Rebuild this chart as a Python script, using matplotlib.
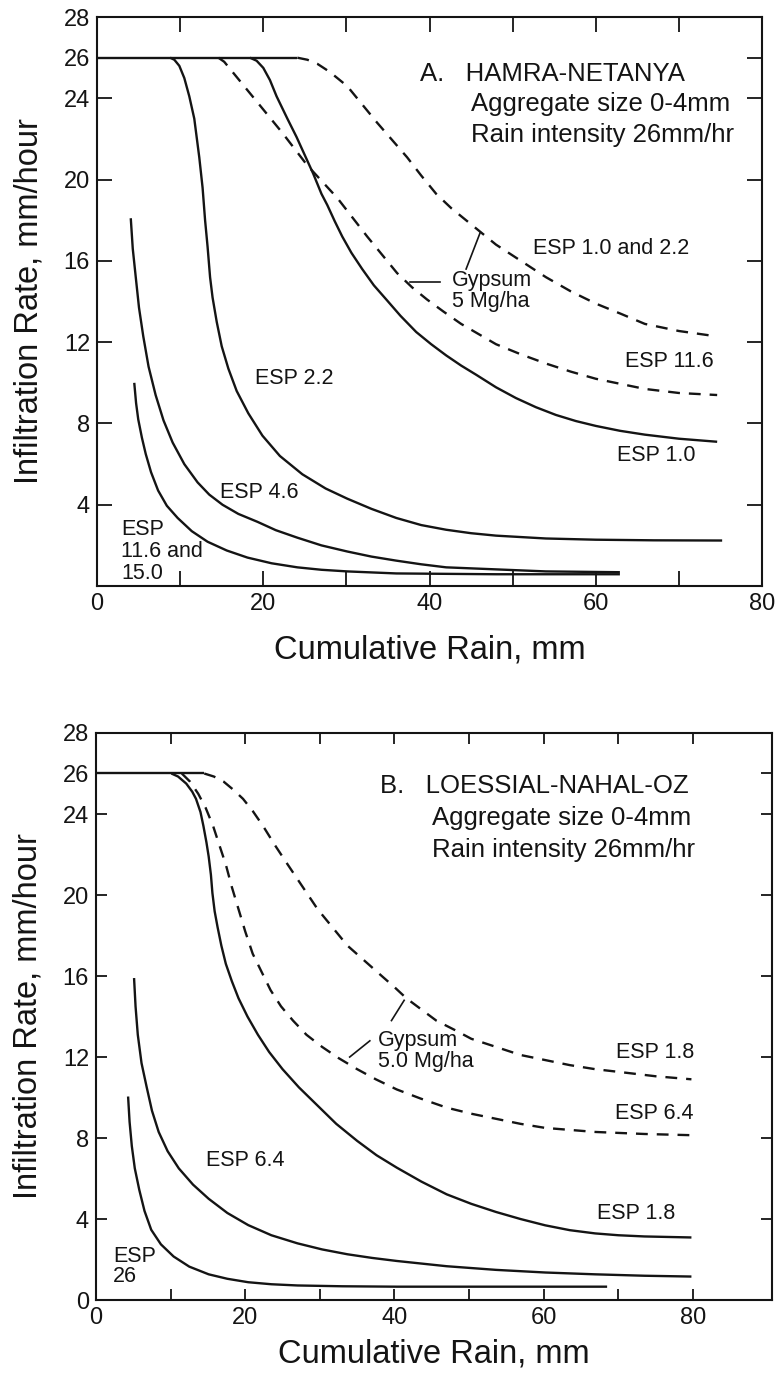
import matplotlib
matplotlib.use("Agg")
from matplotlib import pyplot as plt

plt.rcParams["font.family"] = ["Liberation Sans", "DejaVu Sans"]

INK = "#141414"

# ---------------- Panel A: Hamra-Netanya ----------------
plateau_a_x = [0, 24.1]
plateau_a_y = [26, 26]

esp22_a_x = [8.8, 9.3, 9.9, 10.5, 11.1, 11.7, 12.3, 12.7, 13.0, 13.3, 13.6, 13.9, 14.4, 15.0, 15.8, 16.8,
             18.2, 19.9, 22.0, 24.7, 27.5, 30.1, 33.0, 36.0, 39.0, 42.0, 45.0, 48.0, 54.0, 60.0, 67.0, 75.2]
esp22_a_y = [26.0, 25.9, 25.6, 25.0, 24.1, 23.0, 21.1, 19.6, 18.0, 16.7, 15.2, 14.2, 13.0, 11.8, 10.7, 9.6,
             8.5, 7.4, 6.4, 5.5, 4.8, 4.3, 3.8, 3.35, 3.0, 2.77, 2.6, 2.48, 2.34, 2.28, 2.25, 2.24]

esp10_a_x = [18.4, 19.2, 20.0, 20.8, 21.6, 22.9, 24.0, 25.0, 26.0, 27.0, 27.7, 28.6, 29.5, 30.6, 31.9, 33.3,
             34.8, 36.5, 38.4, 40.2, 42.0, 43.8, 45.6, 48.0, 50.4, 52.8, 55.2, 57.6, 60.0, 62.9, 65.9, 70.0,
             74.6]
esp10_a_y = [26.0, 25.85, 25.5, 24.9, 24.1, 23.0, 22.1, 21.2, 20.3, 19.3, 18.75, 17.95, 17.2, 16.4, 15.6, 14.8,
             14.1, 13.3, 12.5, 11.9, 11.35, 10.85, 10.4, 9.78, 9.25, 8.8, 8.42, 8.12, 7.88, 7.64, 7.45, 7.25,
             7.1]

gyp_esp10_22_a_x = [24.1, 25.3, 26.5, 28.0, 30.1, 31.9, 33.7, 35.5, 37.3, 39.0, 40.8, 42.6, 44.4, 46.2, 48.0,
                    51.0, 54.0, 57.0, 60.0, 63.0, 65.9, 70.0, 74.3]
gyp_esp10_22_a_y = [26.0, 25.9, 25.7, 25.3, 24.6, 23.7, 22.8, 21.95, 21.1, 20.2, 19.3, 18.6, 18.0, 17.4, 16.8,
                    16.0, 15.2, 14.5, 13.9, 13.4, 12.9, 12.55, 12.3]

gyp_esp116_a_x = [14.6, 15.3, 16.3, 17.8, 19.3, 20.8, 22.3, 23.8, 25.3, 27.1, 28.9, 30.7, 32.5, 34.3, 36.1,
                  37.9, 39.7, 41.7, 43.8, 45.9, 48.0, 51.0, 54.0, 57.0, 60.0, 65.9, 70.0, 74.6]
gyp_esp116_a_y = [26.0, 25.8, 25.3, 24.55, 23.8, 23.05, 22.3, 21.5, 20.7, 19.9, 19.1, 18.15, 17.2, 16.3, 15.4,
                  14.7, 14.1, 13.5, 12.9, 12.4, 11.9, 11.4, 10.95, 10.55, 10.2, 9.7, 9.5, 9.4]

esp46_a_x = [4.06, 4.3, 4.66, 5.05, 5.56, 6.2, 7.05, 8.0, 9.1, 10.5, 12.1, 13.5, 15.1, 17.0, 19.3, 21.5,
             24.1, 27.0, 30.1, 33.0, 36.0, 39.0, 42.0, 48.0, 54.0, 62.9]
esp46_a_y = [18.1, 16.6, 15.2, 13.7, 12.3, 10.8, 9.4, 8.15, 7.06, 6.0, 5.1, 4.5, 4.0, 3.55, 3.16, 2.75,
             2.38, 2.0, 1.7, 1.45, 1.25, 1.07, 0.92, 0.82, 0.72, 0.68]

esp116_15_a_x = [4.48, 4.7, 4.96, 5.4, 5.86, 6.5, 7.35, 8.4, 9.7, 11.4, 13.3, 15.6, 18.1, 21.0, 24.1, 27.0,
                 30.1, 36.0, 48.0, 62.9]
esp116_15_a_y = [10.0, 9.0, 8.2, 7.3, 6.5, 5.6, 4.7, 3.95, 3.35, 2.7, 2.18, 1.75, 1.4, 1.12, 0.92, 0.8,
                 0.72, 0.62, 0.58, 0.58]

# ---------------- Panel B: Loessial-Nahal-Oz ----------------
plateau_b_x = [0, 14.5]
plateau_b_y = [26, 26]

esp18_b_x = [10.1, 11.0, 12.1, 12.9, 13.4, 14.0, 14.4, 14.8, 15.1, 15.4, 15.6, 15.9, 16.3, 16.8, 17.4, 18.2,
             19.1, 20.3, 21.7, 23.2, 25.0, 27.2, 29.7, 32.2, 35.0, 37.6, 40.3, 43.6, 47.0, 50.3, 53.6, 56.9,
             60.2, 63.5, 66.9, 70.0, 73.5, 79.8]
esp18_b_y = [26.0, 25.85, 25.5, 25.1, 24.75, 24.1, 23.4, 22.6, 21.9, 21.0, 20.1, 19.2, 18.4, 17.5, 16.6, 15.75,
             14.9, 14.0, 13.1, 12.25, 11.4, 10.5, 9.6, 8.7, 7.86, 7.15, 6.54, 5.85, 5.22, 4.75, 4.35, 4.0,
             3.69, 3.45, 3.29, 3.2, 3.14, 3.09]

gyp_esp64_b_x = [11.5, 12.6, 13.7, 14.7, 15.7, 16.5, 17.4, 18.2, 19.1, 20.0, 21.0, 22.2, 23.4, 24.8, 26.4,
                 28.2, 30.3, 32.5, 35.0, 37.5, 40.3, 43.5, 47.0, 50.3, 53.6, 56.9, 60.2, 66.9, 73.5, 79.8]
gyp_esp64_b_y = [26.0, 25.6, 25.0, 24.3, 23.4, 22.5, 21.5, 20.4, 19.3, 18.2, 17.1, 16.2, 15.3, 14.5, 13.8,
                 13.1, 12.5, 11.95, 11.4, 10.9, 10.4, 9.95, 9.5, 9.2, 8.95, 8.7, 8.5, 8.3, 8.2, 8.14]

gyp_esp18_b_x = [14.5, 15.8, 17.1, 18.4, 19.7, 21.0, 22.4, 24.0, 25.7, 27.7, 29.7, 31.7, 33.7, 36.0, 38.3,
                 40.0, 41.6, 43.6, 45.6, 48.0, 50.3, 53.6, 56.9, 60.2, 63.5, 66.9, 70.2, 75.0, 79.8]
gyp_esp18_b_y = [26.0, 25.85, 25.6, 25.2, 24.75, 24.15, 23.4, 22.45, 21.5, 20.4, 19.3, 18.4, 17.5, 16.75, 16.0,
                 15.45, 14.9, 14.35, 13.8, 13.35, 12.9, 12.5, 12.1, 11.85, 11.6, 11.4, 11.26, 11.05, 10.9]

esp64_b_x = [5.1, 5.3, 5.6, 6.1, 6.8, 7.5, 8.4, 9.6, 11.1, 13.0, 15.1, 17.6, 20.4, 23.5, 27.0, 30.3, 33.7,
             37.0, 40.3, 47.0, 53.6, 60.2, 66.9, 73.5, 79.8]
esp64_b_y = [15.9, 14.5, 13.1, 11.7, 10.5, 9.35, 8.3, 7.35, 6.5, 5.7, 5.0, 4.3, 3.7, 3.2, 2.8, 2.5, 2.26,
             2.08, 1.93, 1.67, 1.49, 1.36, 1.27, 1.2, 1.16]

esp26_b_x = [4.3, 4.5, 4.8, 5.2, 5.8, 6.5, 7.4, 8.7, 10.4, 12.5, 15.1, 17.6, 20.4, 23.5, 27.0, 33.0, 40.3,
             53.6, 68.5]
esp26_b_y = [10.05, 8.8, 7.6, 6.5, 5.44, 4.4, 3.47, 2.75, 2.15, 1.65, 1.27, 1.05, 0.88, 0.78, 0.72, 0.68, 0.66,
             0.66, 0.66]

y_ticks = [0, 4, 8, 12, 16, 20, 24, 26, 28]
x_ticks = [0, 10, 20, 30, 40, 50, 60, 70, 80]

SOLID = dict(color=INK, lw=1.7, solid_capstyle="butt", solid_joinstyle="round")
DASHED = dict(color=INK, lw=1.7, linestyle=(0, (5.0, 3.8)))

fig = plt.figure(figsize=(7.78, 13.76), dpi=100)
ax_a = fig.add_axes([0.1247, 0.5741, 0.8548, 0.4135])
ax_b = fig.add_axes([0.1234, 0.0552, 0.8689, 0.4121])


def style_axes(ax, xmax, show_zero, tick_len, xpad):
    ax.set_xlim(0, xmax)
    ax.set_ylim(0, 28)
    ax.set_xticks(x_ticks)
    ax.set_xticklabels([str(t) if t % 20 == 0 else "" for t in x_ticks])
    ax.set_yticks(y_ticks)
    ax.set_yticklabels([str(t) if (t != 0 or show_zero) else "" for t in y_ticks])
    ax.tick_params(direction="in", length=tick_len, width=1.3, colors=INK,
                   labelsize=17, top=True, right=True, pad=5)
    for s in ax.spines.values():
        s.set_linewidth(1.5)
        s.set_color(INK)
    ax.set_xlabel("Cumulative Rain, mm", fontsize=23.5, color=INK, labelpad=xpad)
    ax.set_ylabel("Infiltration Rate, mm/hour", fontsize=23.5, color=INK, labelpad=14)


# Panel A
style_axes(ax_a, 80, False, 11, 14)
ax_a.plot(plateau_a_x, plateau_a_y, **SOLID)
ax_a.plot(esp22_a_x, esp22_a_y, **SOLID)
ax_a.plot(esp10_a_x, esp10_a_y, **SOLID)
ax_a.plot(esp46_a_x, esp46_a_y, **SOLID)
ax_a.plot(esp116_15_a_x, esp116_15_a_y, **SOLID)
ax_a.plot(gyp_esp10_22_a_x, gyp_esp10_22_a_y, **DASHED)
ax_a.plot(gyp_esp116_a_x, gyp_esp116_a_y, **DASHED)

big = dict(fontsize=18.5, color=INK, ha="left", va="center")
lab = dict(fontsize=15.5, color=INK, ha="left", va="center")
ax_a.text(38.9, 25.2, "A.   HAMRA-NETANYA", **big)
ax_a.text(45.0, 23.7, "Aggregate size 0-4mm", **big)
ax_a.text(45.0, 22.2, "Rain intensity 26mm/hr", **big)
ax_a.text(52.5, 16.6, "ESP 1.0 and 2.2", **lab)
ax_a.text(63.5, 11.05, "ESP 11.6", **lab)
ax_a.text(62.6, 6.43, "ESP 1.0", **lab)
ax_a.text(19.0, 10.2, "ESP 2.2", **lab)
ax_a.text(14.8, 4.6, "ESP 4.6", **lab)
ax_a.text(2.9, 1.7, "ESP\n11.6 and\n15.0", fontsize=15.5, color=INK,
          ha="left", va="center", linespacing=1.05)
ax_a.text(42.7, 14.5, "Gypsum\n5 Mg/ha", fontsize=15.5, color=INK,
          ha="left", va="center", linespacing=1.0)
ax_a.plot([44.4, 46.1], [15.6, 17.4], color=INK, lw=1.2)
ax_a.plot([37.7, 41.3], [14.95, 14.95], color=INK, lw=1.2)

# Panel B
style_axes(ax_b, 90.6, True, 8, 7)
ax_b.plot(plateau_b_x, plateau_b_y, **SOLID)
ax_b.plot(esp18_b_x, esp18_b_y, **SOLID)
ax_b.plot(esp64_b_x, esp64_b_y, **SOLID)
ax_b.plot(esp26_b_x, esp26_b_y, **SOLID)
ax_b.plot(gyp_esp64_b_x, gyp_esp64_b_y, **DASHED)
ax_b.plot(gyp_esp18_b_x, gyp_esp18_b_y, **DASHED)

ax_b.text(38.0, 25.4, "B.   LOESSIAL-NAHAL-OZ", **big)
ax_b.text(45.0, 23.8, "Aggregate size 0-4mm", **big)
ax_b.text(45.0, 22.2, "Rain intensity 26mm/hr", **big)
ax_b.text(69.7, 12.2, "ESP 1.8", **lab)
ax_b.text(69.5, 9.2, "ESP 6.4", **lab)
ax_b.text(14.7, 6.9, "ESP 6.4", **lab)
ax_b.text(67.2, 4.28, "ESP 1.8", **lab)
ax_b.text(2.3, 1.65, "ESP\n26", fontsize=15.5, color=INK, ha="left",
          va="center", linespacing=0.95)
ax_b.text(37.8, 12.3, "Gypsum\n5.0 Mg/ha", fontsize=15.5, color=INK,
          ha="left", va="center", linespacing=1.0)
ax_b.plot([39.6, 41.3], [13.8, 14.8], color=INK, lw=1.2)
ax_b.plot([36.7, 34.0], [12.8, 12.0], color=INK, lw=1.2)

fig.savefig("out.png", dpi=100, facecolor="white")
plt.close(fig)
